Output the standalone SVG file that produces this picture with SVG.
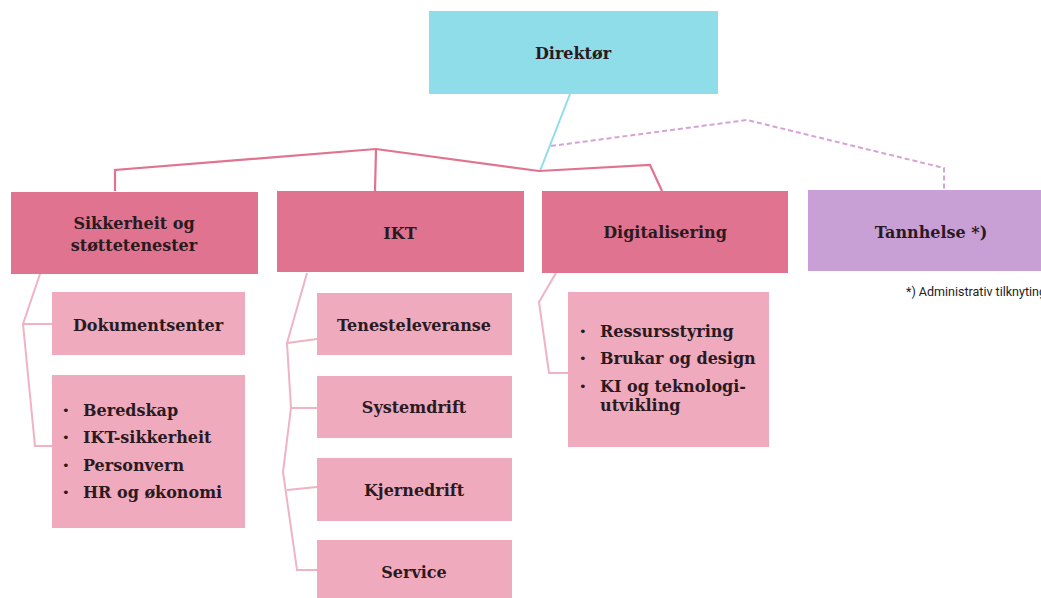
<svg xmlns="http://www.w3.org/2000/svg" width="1041" height="598" viewBox="0 0 1041 598">
<style>
.t{font-family:"DejaVu Serif","Liberation Serif",serif;font-weight:bold;font-size:16px;fill:#2a1a1f}
.b{font-family:"DejaVu Sans","Liberation Sans",sans-serif;font-size:13px;fill:#2a1a1f}
.c{text-anchor:middle}
.main{fill:#e0738f}
.sub{fill:#efaabd}
.line{fill:none;stroke:#e0738f;stroke-width:2.2}
.subline{fill:none;stroke:#efb3c3;stroke-width:2}
</style>
<rect width="1041" height="598" fill="#ffffff"/>
<g id="connectors">
<polyline points="570,94 540,171" fill="none" stroke="#8fdde9" stroke-width="2"/>
<polyline class="line" points="115,191 115,170 376,149 539,171 650,165 662,191"/>
<polyline class="line" points="376,149 375,191"/>
<polyline points="551,146 747,120 944,168 944,190" fill="none" stroke="#d6a3d6" stroke-width="2" stroke-dasharray="5,3"/>
<polyline class="subline" points="40,274 23,324 52,324"/>
<polyline class="subline" points="23,324 35,446 52,446"/>
<polyline class="subline" points="307,273 287,343 317,339"/>
<polyline class="subline" points="287,343 291,408 317,408"/>
<polyline class="subline" points="291,408 283,472 297,570 317,570"/>
<polyline class="subline" points="287,490 317,487"/>
<polyline class="subline" points="556,273 539,302 549,373 568,373"/>
</g>
<g id="direktor">
<rect x="429" y="11" width="289" height="83" fill="#8fdde9"/>
<text class="t c" x="573" y="59">Direktør</text>
</g>
<g id="sikkerheit">
<rect class="main" x="11" y="192" width="247" height="82"/>
<text class="t c" x="134" y="229">Sikkerheit og</text>
<text class="t c" x="134" y="251">støttetenester</text>
</g>
<g id="ikt">
<rect class="main" x="277" y="191" width="247" height="81"/>
<text class="t c" x="400" y="239">IKT</text>
</g>
<g id="digitalisering">
<rect class="main" x="542" y="191" width="246" height="82"/>
<text class="t c" x="665" y="238">Digitalisering</text>
</g>
<g id="tannhelse">
<rect x="808" y="190" width="233" height="81" fill="#c9a0d6"/>
<text class="t c" x="931" y="238">Tannhelse *)</text>
</g>
<g id="footnote">
<text x="906" y="296" font-family="Roboto,'Liberation Sans',sans-serif" font-size="12.5" fill="#222">*) Administrativ tilknyting</text>
</g>
<g id="dokumentsenter">
<rect class="sub" x="52" y="292" width="193" height="63"/>
<text class="t c" x="148" y="331">Dokumentsenter</text>
</g>
<g id="sikkerheit-liste">
<rect class="sub" x="52" y="375" width="193" height="153"/>
<text class="b" x="62" y="415">•</text><text class="t" x="83" y="416">Beredskap</text>
<text class="b" x="62" y="442">•</text><text class="t" x="83" y="443">IKT-sikkerheit</text>
<text class="b" x="62" y="470">•</text><text class="t" x="83" y="471">Personvern</text>
<text class="b" x="62" y="497">•</text><text class="t" x="83" y="498">HR og økonomi</text>
</g>
<g id="tenesteleveranse">
<rect class="sub" x="317" y="293" width="195" height="62"/>
<text class="t c" x="414" y="331">Tenesteleveranse</text>
</g>
<g id="systemdrift">
<rect class="sub" x="317" y="376" width="195" height="62"/>
<text class="t c" x="414" y="413">Systemdrift</text>
</g>
<g id="kjernedrift">
<rect class="sub" x="317" y="458" width="195" height="63"/>
<text class="t c" x="414" y="496">Kjernedrift</text>
</g>
<g id="service">
<rect class="sub" x="317" y="540" width="195" height="70"/>
<text class="t c" x="414" y="578">Service</text>
</g>
<g id="digitalisering-liste">
<rect class="sub" x="568" y="292" width="201" height="155"/>
<text class="b" x="579" y="336">•</text><text class="t" x="600" y="337">Ressursstyring</text>
<text class="b" x="579" y="363">•</text><text class="t" x="600" y="364">Brukar og design</text>
<text class="b" x="579" y="391">•</text><text class="t" x="600" y="392">KI og teknologi-</text>
<text class="t" x="600" y="411">utvikling</text>
</g>
</svg>
